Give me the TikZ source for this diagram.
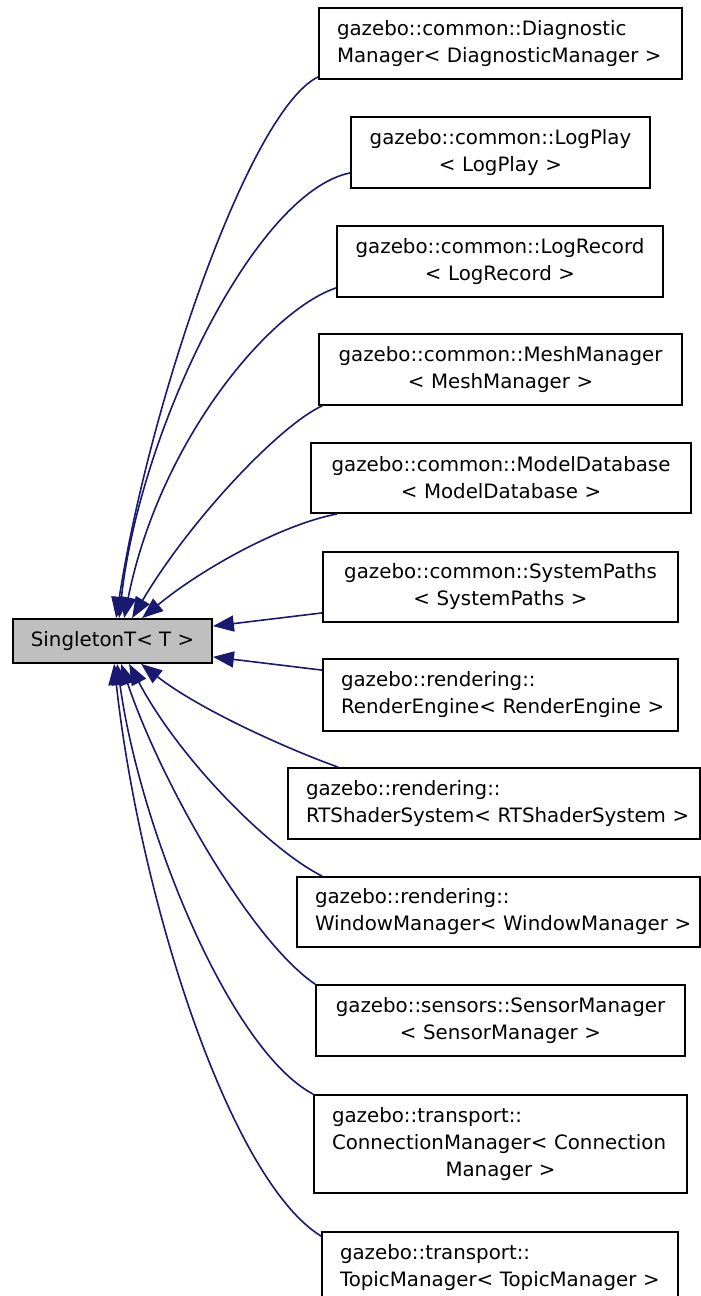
\documentclass[tikz,border=0pt]{standalone}
\usepackage{fontspec}
\setmainfont{DejaVu Sans}
\usetikzlibrary{arrows.meta}
\definecolor{edgeblue}{HTML}{191970}
\definecolor{basegray}{HTML}{BFBFBF}
\tikzset{
  cls/.style={draw=black, line width=1.8pt, fill=white, inner xsep=18pt, inner ysep=0pt,
    font=\fontsize{19.8}{27}\selectfont, minimum height=71pt},
  clsL/.style={cls, align=left},
  clsC/.style={cls, align=center},
  edge/.style={draw=edgeblue, line width=1.6pt, -{Triangle[length=21pt,width=16pt]}},
}
\begin{document}
\begin{tikzpicture}[x=1pt,y=-1pt]
\useasboundingbox (0,0) rectangle (701,1296);
\clip (0,0) rectangle (701,1296);

\node[cls, fill=basegray, align=center, minimum width=199pt, minimum height=44pt, inner xsep=0pt] (s) at (112.5,641) {SingletonT< T >};

\node[clsL, text width=327pt] (d1) at (500.5,43.5) {\mbox{gazebo::common::Diagnostic}\\\mbox{Manager< DiagnosticManager >}};
\node[clsC, text width=263pt] (d2) at (500.5,152.5) {\mbox{gazebo::common::LogPlay}\\\mbox{< LogPlay >}};
\node[clsC, text width=290pt] (d3) at (500,261.5) {\mbox{gazebo::common::LogRecord}\\\mbox{< LogRecord >}};
\node[clsC, text width=327pt] (d4) at (500.5,369.5) {\mbox{gazebo::common::MeshManager}\\\mbox{< MeshManager >}};
\node[clsC, text width=344pt, minimum height=70pt] (d5) at (501,478) {\mbox{gazebo::common::ModelDatabase}\\\mbox{< ModelDatabase >}};
\node[clsC, text width=319pt, minimum height=70pt] (d6) at (500.5,587) {\mbox{gazebo::common::SystemPaths}\\\mbox{< SystemPaths >}};
\node[clsL, text width=319pt, minimum height=72pt] (d7) at (500.5,695) {\mbox{gazebo::rendering::}\\\mbox{RenderEngine< RenderEngine >}};
\node[clsL, text width=376pt] (d8) at (494,803.5) {\mbox{gazebo::rendering::}\\\mbox{RTShaderSystem< RTShaderSystem >}};
\node[clsL, text width=367pt, minimum height=70pt] (d9) at (498.5,912) {\mbox{gazebo::rendering::}\\\mbox{WindowManager< WindowManager >}};
\node[clsC, text width=333pt] (d10) at (500.5,1020.5) {\mbox{gazebo::sensors::SensorManager}\\\mbox{< SensorManager >}};
\node[clsL, text width=337pt, minimum height=98pt] (d11) at (500.5,1144) {\mbox{gazebo::transport::}\\\mbox{ConnectionManager< Connection}\\\makebox[337pt][c]{Manager >}};
\node[clsL, text width=320pt] (d12) at (500,1267.5) {\mbox{gazebo::transport::}\\\mbox{TopicManager< TopicManager >}};

% edges
\draw[edge] ([yshift=3pt]d1.south west) .. controls (250,110) and (150,400) .. ([xshift=104pt]s.north west);
\draw[edge] ([yshift=16pt]d2.south west) .. controls (255,192) and (140,430) .. ([xshift=107pt]s.north west);
\draw[edge] ([yshift=10pt]d3.south west) .. controls (270,310) and (160,440) .. ([xshift=112pt]s.north west);
\draw[edge] ([xshift=4pt]d4.south west) .. controls (280,425) and (190,520) .. ([xshift=120pt]s.north west);
\draw[edge] ([xshift=27pt]d5.south west) .. controls (280,525) and (200,570) .. ([xshift=130pt]s.north west);
\draw[edge] ([yshift=10pt]d6.south west) -- ([yshift=-8pt]s.north east);
\draw[edge] ([yshift=-12pt]d7.north west) -- ([yshift=7pt]s.south east);
\draw[edge] ([xshift=51pt]d8.north west) .. controls (290,750) and (200,710) .. ([xshift=129pt]s.south west);
\draw[edge] ([xshift=26pt]d9.north west) .. controls (270,850) and (180,760) .. ([xshift=117pt]s.south west);
\draw[edge] (d10.north west) .. controls (250,940) and (160,780) .. ([xshift=109pt]s.south west);
\draw[edge] (d11.north west) .. controls (230,1050) and (140,830) .. ([xshift=105pt]s.south west);
\draw[edge] ([yshift=-5pt]d12.north west) .. controls (230,1180) and (140,900) .. ([xshift=102pt]s.south west);
\end{tikzpicture}
\end{document}
